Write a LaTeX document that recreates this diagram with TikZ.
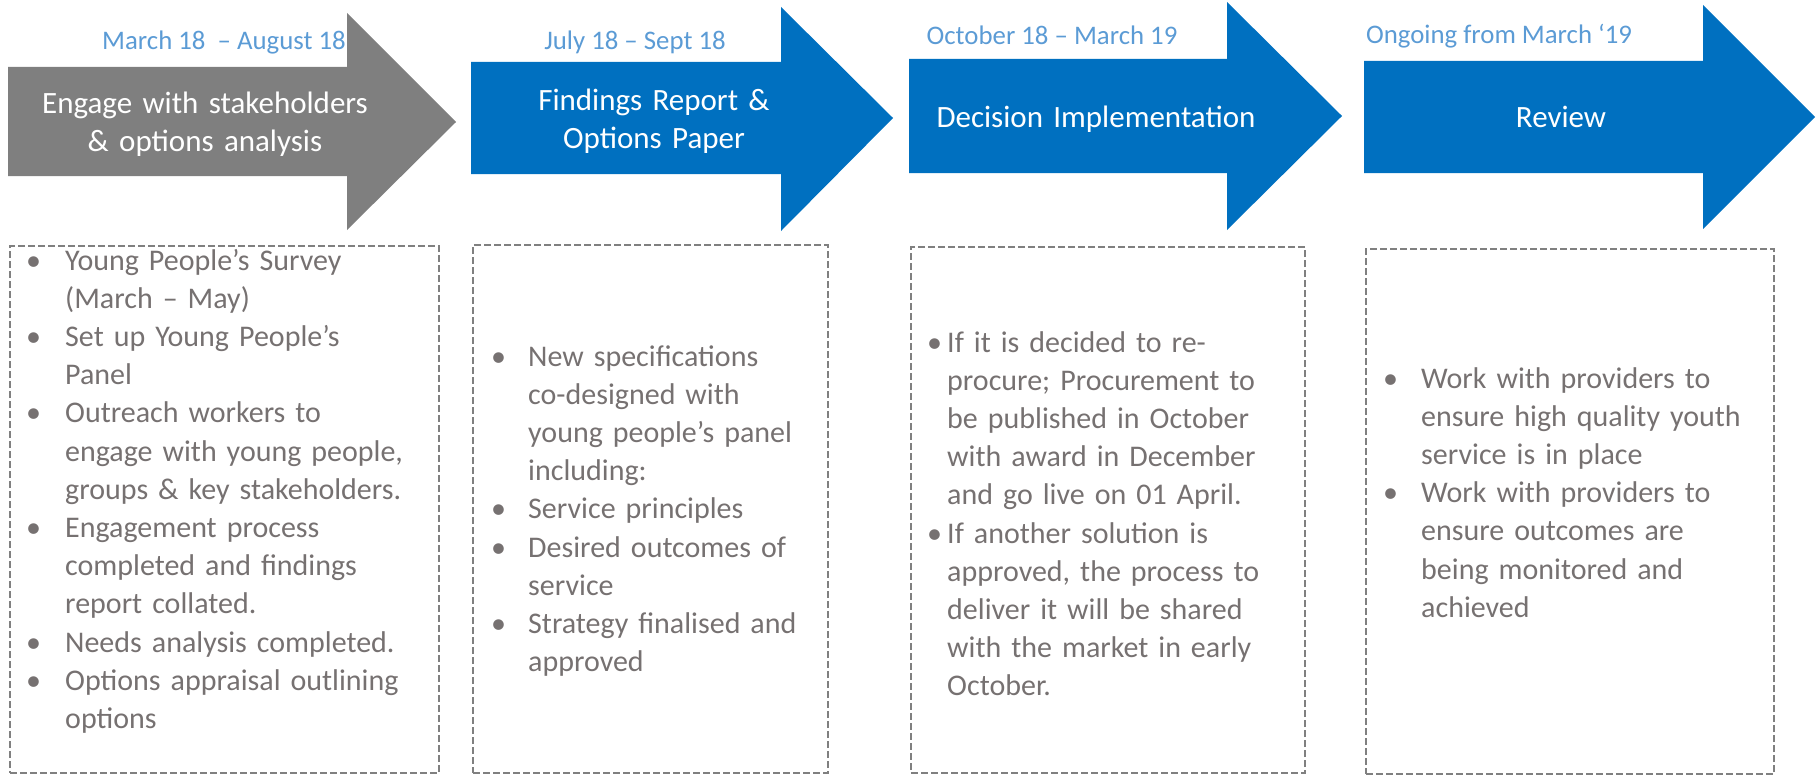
\documentclass[tikz,border=0pt]{standalone}
\usepackage{fontspec}
\setmainfont{Carlito}
\usetikzlibrary{positioning}

\definecolor{phaseblue}{HTML}{0070C0}
\definecolor{phasegray}{HTML}{7F7F7F}
\definecolor{datecol}{HTML}{5B9BD5}
\definecolor{notecol}{HTML}{767171}
\definecolor{dashcol}{HTML}{808080}

\newcommand{\bul}[1]{\makebox[#1][l]{\textbullet}}
\newcommand{\cnt}[1]{\hspace*{#1}}

\begin{document}
\begin{tikzpicture}[
  x=1pt, y=-1pt,
  stage/.style={fill=phaseblue},
  title/.style={text=white, align=center, text width=380pt, inner sep=0pt, anchor=base, font=\fontsize{31}{38}\selectfont},
  datelbl/.style={text=datecol, inner sep=0pt, anchor=base, font=\fontsize{26.8}{32}\selectfont},
  dashedbox/.style={draw=dashcol, line width=2pt, dash pattern=on 7pt off 3pt, anchor=north west, inner sep=0pt},
  notes/.style={text=notecol, align=left, text width=420pt, inner sep=0pt, anchor=base west, font=\fontsize{30}{38.2}\selectfont}
]
\useasboundingbox (0,0) rectangle (1817,776);

\fill[stage, fill=phasegray] (8,67) -- (347,67) -- (347,13) -- (456,122) -- (347,230) -- (347,176) -- (8,176) -- cycle;
\fill[stage] (471,62) -- (781,62) -- (781,7) -- (893,118) -- (781,231) -- (781,174) -- (471,174) -- cycle;
\fill[stage] (909,59) -- (1227,59) -- (1227,2) -- (1342,116) -- (1227,230) -- (1227,173) -- (909,173) -- cycle;
\fill[stage] (1364,61) -- (1703,61) -- (1703,5) -- (1815,117) -- (1703,229) -- (1703,173) -- (1364,173) -- cycle;

\node[datelbl] (d1) at (224,49) {March 18 \ – August 18};
\node[datelbl] (d2) at (635,50) {July 18 – Sept 18};
\node[datelbl] (d3) at (1052,45) {October 18 – March 19};
\node[datelbl] (d4) at (1499,44) {Ongoing from March ‘19};

\node[title] (t1) at (205,113) {Engage with stakeholders\\\& options analysis};
\node[title] (t2) at (654,110) {Findings Report \&\\Options Paper};
\node[title] (t3) at (1096,127) {Decision Implementation};
\node[title] (t4) at (1561,127) {Review};

\node[dashedbox, minimum width=429pt, minimum height=527pt] (b1) at (9,245) {};
\node[dashedbox, minimum width=355pt, minimum height=528pt] (b2) at (472,244) {};
\node[dashedbox, minimum width=394pt, minimum height=526pt] (b3) at (910,246) {};
\node[dashedbox, minimum width=408pt, minimum height=525pt] (b4) at (1365,248) {};

\node[notes] (n1) at (26,270) {\bul{39pt}Young People’s Survey\\
  \cnt{39pt}(March – May)\\
  \bul{39pt}Set up Young People’s\\
  \cnt{39pt}Panel\\
  \bul{39pt}Outreach workers to\\
  \cnt{39pt}engage with young people,\\
  \cnt{39pt}groups \& key stakeholders.\\
  \bul{39pt}Engagement process\\
  \cnt{39pt}completed and findings\\
  \cnt{39pt}report collated.\\
  \bul{39pt}Needs analysis completed.\\
  \bul{39pt}Options appraisal outlining\\
  \cnt{39pt}options};
\node[notes] (n2) at (491,366) {\bul{37pt}New specifications\\
  \cnt{37pt}co-designed with\\
  \cnt{37pt}young people’s panel\\
  \cnt{37pt}including:\\
  \bul{37pt}Service principles\\
  \bul{37pt}Desired outcomes of\\
  \cnt{37pt}service\\
  \bul{37pt}Strategy finalised and\\
  \cnt{37pt}approved};
\node[notes] (n3) at (927,352) {\bul{20pt}If it is decided to re-\\
  \cnt{20pt}procure; Procurement to\\
  \cnt{20pt}be published in October\\
  \cnt{20pt}with award in December\\
  \cnt{20pt}and go live on 01 April.\\
  \bul{20pt}If another solution is\\
  \cnt{20pt}approved, the process to\\
  \cnt{20pt}deliver it will be shared\\
  \cnt{20pt}with the market in early\\
  \cnt{20pt}October.};
\node[notes] (n4) at (1383,388) {\bul{38pt}Work with providers to\\
  \cnt{38pt}ensure high quality youth\\
  \cnt{38pt}service is in place\\
  \bul{38pt}Work with providers to\\
  \cnt{38pt}ensure outcomes are\\
  \cnt{38pt}being monitored and\\
  \cnt{38pt}achieved};
\end{tikzpicture}
\end{document}
